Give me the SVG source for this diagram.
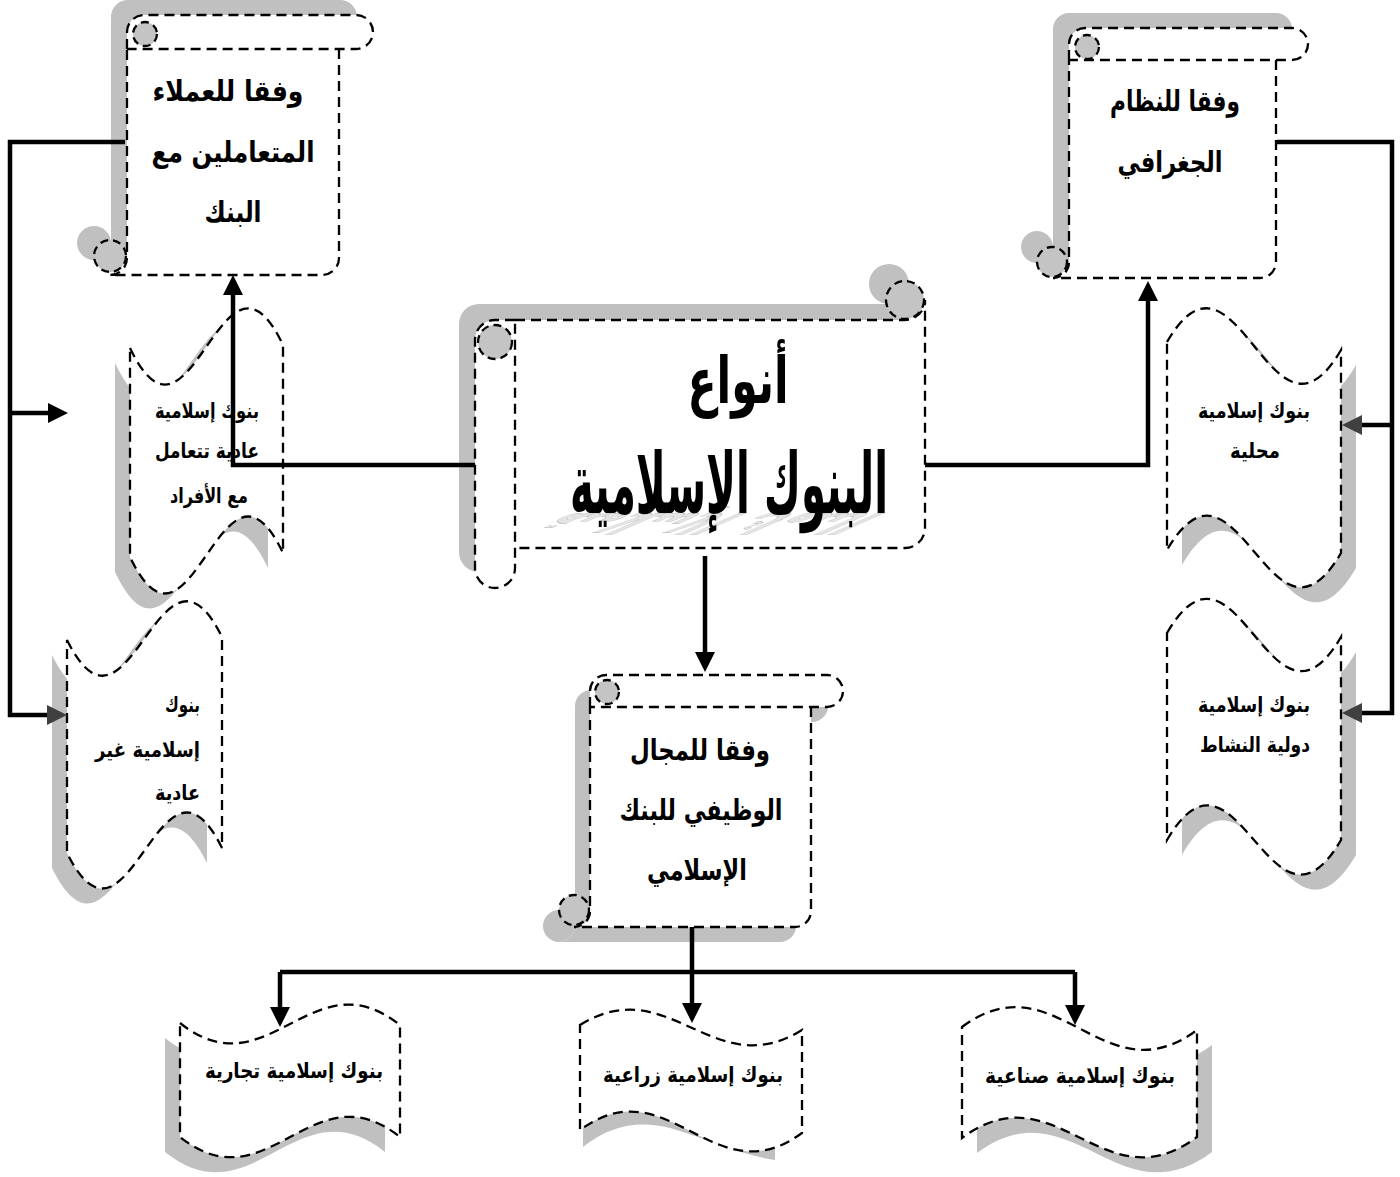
<svg xmlns="http://www.w3.org/2000/svg" width="1400" height="1177" viewBox="0 0 1400 1177">
  <style>
    .sh { fill: #c0c0c0; stroke: none; }
    .pg { fill: #ffffff; stroke: #000; stroke-width: 2.3; stroke-dasharray: 10 6; }
    .curl { fill: #c4c4c4; stroke: #000; stroke-width: 2.3; stroke-dasharray: 8 5; }
    .conn { fill: none; stroke: #000; stroke-width: 4.5; stroke-linejoin: miter; stroke-linecap: butt; }
    .t { font-family: 'DejaVu Sans', 'Liberation Sans', sans-serif; font-weight: bold; fill: #000; text-anchor: middle; }
    .big { font-size: 29px; }
    .sm { font-size: 21px; }
  </style>
  <defs>
    <marker id="ah" viewBox="0 0 20 20" refX="12" refY="10" markerWidth="20" markerHeight="20" markerUnits="userSpaceOnUse" orient="auto">
      <path d="M0,0 L20,10 L0,20 Z" fill="#000"/>
    </marker>
    <marker id="ahg" viewBox="0 0 20 20" refX="12" refY="10" markerWidth="20" markerHeight="20" markerUnits="userSpaceOnUse" orient="auto">
      <path d="M0,0 L20,10 L0,20 Z" fill="#404040"/>
    </marker>
    <!-- vertical scroll parts -->
    <path id="tlBody" d="M339,49 L339,258 A17 17 0 0 1 322,275 L110,275 A17 17 0 0 0 127,258 L127,49"/>
    <path id="tlRoll" d="M127,49 L127,32 A17 17 0 0 1 144,15 L356,15 A17 17 0 0 1 356,49 L127,49"/>
    <path id="trBody" d="M1276,60 L1276,262 A16 16 0 0 1 1260,278 L1053,278 A16 16 0 0 0 1069,262 L1069,60"/>
    <path id="trRoll" d="M1069,60 L1069,44 A16 16 0 0 1 1085,28 L1292,28 A16 16 0 0 1 1292,60 L1069,60"/>
    <path id="bcBody" d="M811,707 L811,911 A16 16 0 0 1 795,927 L574,927 A16 16 0 0 0 590,911 L590,707"/>
    <path id="bcRoll" d="M590,707 L590,691 A16 16 0 0 1 606,675 L827,675 A16 16 0 0 1 827,707 L590,707"/>
    <!-- horizontal scroll parts -->
    <path id="cBody" d="M515,320 L905,320 A20 20 0 0 0 925,300 L925,528 A20 20 0 0 1 905,548 L515,548"/>
    <path id="cTube" d="M515,320 L495,320 A20 20 0 0 0 475,340 L475,568 A20 20 0 0 0 495,588 A20 20 0 0 0 515,568 Z"/>
    <!-- wave banners -->
    <path id="wL1" d="M130,348 C191,476 222,217 283,345 L283,553 C222,425 191,685 130,557 Z"/>
    <path id="wL2" d="M67,640 C129,765 160,512 222,637 L222,848 C160,723 129,978 67,853 Z"/>
    <path id="wR1" d="M1167,342 C1237,222 1271,470 1341,350 L1341,553 C1271,673 1237,430 1167,550 Z"/>
    <path id="wR2" d="M1167,633 C1237,513 1271,757 1341,637 L1341,840 C1271,960 1237,720 1167,840 Z"/>
    <path id="wB1" d="M180,1023 C268,1093 312,955 400,1025 L400,1137 C312,1067 268,1207 180,1137 Z"/>
    <path id="wB2" d="M580,1025 C669,970 713,1085 802,1030 L802,1133 C713,1198 669,1065 580,1130 Z"/>
    <path id="wB3" d="M962,1027 C1056,957 1103,1100 1197,1030 L1197,1137 C1103,1207 1056,1068 962,1138 Z"/>
  </defs>

  <!-- shadows -->
  <g id="shadows">
    <g class="sh" transform="translate(-16,-15)">
      <use href="#tlBody"/><use href="#tlRoll"/><circle cx="110" cy="258" r="17"/>
    </g>
    <g class="sh" transform="translate(-16,-15)">
      <use href="#trBody"/><use href="#trRoll"/><circle cx="1053" cy="262" r="16"/>
    </g>
    <g class="sh" transform="translate(-15,15)">
      <use href="#bcBody"/><use href="#bcRoll"/><circle cx="574" cy="911" r="16"/>
    </g>
    <g class="sh" transform="translate(-16,-16)">
      <use href="#cBody"/><use href="#cTube"/><circle cx="905" cy="300" r="20"/>
    </g>
    <use class="sh" href="#wL1" transform="translate(-15,15)"/>
    <use class="sh" href="#wL2" transform="translate(-15,15)"/>
    <use class="sh" href="#wR1" transform="translate(15,15)"/>
    <use class="sh" href="#wR2" transform="translate(15,15)"/>
    <use class="sh" href="#wB1" transform="translate(-15,15)"/>
    <use class="sh" href="#wB3" transform="translate(15,15)"/>
    <path class="sh" d="M583,1147 C610,1125 640,1120 670,1128 C710,1140 745,1156 775,1160 L775,1148 C700,1118 640,1095 583,1120 Z"/>
  </g>

  <!-- centre scroll -->
  <g id="node-types">
    <use class="pg" href="#cBody"/>
    <use class="pg" href="#cTube"/>
    <circle class="curl" cx="495" cy="342" r="17"/>
    <circle class="curl" cx="905" cy="300" r="19"/>
    <text class="t" font-size="82" textLength="318" lengthAdjust="spacingAndGlyphs" x="729" y="0" transform="matrix(1,0,0.8,-0.35,0,513)" style="fill:#e4e4e4;stroke:#b4b4b4;stroke-width:1">البنوك الإسلامية</text>
    <text class="t" font-size="64" x="738" y="403" textLength="101" lengthAdjust="spacingAndGlyphs">أنواع</text>
    <text class="t" font-size="84" x="729" y="513" textLength="318" lengthAdjust="spacingAndGlyphs">البنوك الإسلامية</text>
  </g>

  <!-- top-left scroll -->
  <g id="node-clients">
    <use class="pg" href="#tlBody"/>
    <use class="pg" href="#tlRoll"/>
    <circle class="curl" cx="145" cy="34" r="12"/>
    <circle class="curl" cx="110" cy="256" r="16"/>
    <text class="t big" x="228" y="101" textLength="151" lengthAdjust="spacingAndGlyphs">وفقا للعملاء</text>
    <text class="t big" x="233" y="162" textLength="163" lengthAdjust="spacingAndGlyphs">المتعاملين مع</text>
    <text class="t big" x="233" y="222" textLength="57" lengthAdjust="spacingAndGlyphs">البنك</text>
  </g>

  <!-- top-right scroll -->
  <g id="node-geo">
    <use class="pg" href="#trBody"/>
    <use class="pg" href="#trRoll"/>
    <circle class="curl" cx="1087" cy="47" r="12"/>
    <circle class="curl" cx="1052" cy="262" r="15"/>
    <text class="t big" x="1175" y="111" textLength="130" lengthAdjust="spacingAndGlyphs">وفقا للنظام</text>
    <text class="t big" x="1170" y="172" textLength="105" lengthAdjust="spacingAndGlyphs">الجغرافي</text>
  </g>

  <!-- bottom-centre scroll -->
  <g id="node-function">
    <use class="pg" href="#bcBody"/>
    <use class="pg" href="#bcRoll"/>
    <circle class="curl" cx="607" cy="692" r="12"/>
    <circle class="curl" cx="574" cy="910" r="15"/>
    <text class="t big" x="700" y="760" textLength="140" lengthAdjust="spacingAndGlyphs">وفقا للمجال</text>
    <text class="t big" x="701" y="820" textLength="163" lengthAdjust="spacingAndGlyphs">الوظيفي للبنك</text>
    <text class="t big" x="697" y="880" textLength="100" lengthAdjust="spacingAndGlyphs">الإسلامي</text>
  </g>

  <!-- wave banners -->
  <g id="node-ordinary">
    <use class="pg" href="#wL1"/>
    <text class="t sm" x="207" y="418" textLength="104" lengthAdjust="spacingAndGlyphs">بنوك إسلامية</text>
    <text class="t sm" x="207" y="458" textLength="104" lengthAdjust="spacingAndGlyphs">عادية تتعامل</text>
    <text class="t sm" x="209" y="503" textLength="78" lengthAdjust="spacingAndGlyphs">مع الأفراد</text>
  </g>
  <g id="node-special">
    <use class="pg" href="#wL2"/>
    <text class="t sm" x="200" y="712" style="text-anchor:end" textLength="35" lengthAdjust="spacingAndGlyphs">بنوك</text>
    <text class="t sm" x="200" y="757" style="text-anchor:end" textLength="105" lengthAdjust="spacingAndGlyphs">إسلامية غير</text>
    <text class="t sm" x="200" y="800" style="text-anchor:end" textLength="45" lengthAdjust="spacingAndGlyphs">عادية</text>
  </g>
  <g id="node-local">
    <use class="pg" href="#wR1"/>
    <text class="t sm" x="1254" y="418" textLength="112" lengthAdjust="spacingAndGlyphs">بنوك إسلامية</text>
    <text class="t sm" x="1255" y="458" textLength="50" lengthAdjust="spacingAndGlyphs">محلية</text>
  </g>
  <g id="node-international">
    <use class="pg" href="#wR2"/>
    <text class="t sm" x="1254" y="712" textLength="112" lengthAdjust="spacingAndGlyphs">بنوك إسلامية</text>
    <text class="t sm" x="1255" y="752" textLength="110" lengthAdjust="spacingAndGlyphs">دولية النشاط</text>
  </g>
  <g id="node-commercial">
    <use class="pg" href="#wB1"/>
    <text class="t sm" x="294" y="1078" textLength="178" lengthAdjust="spacingAndGlyphs">بنوك إسلامية تجارية</text>
  </g>
  <g id="node-agricultural">
    <use class="pg" href="#wB2"/>
    <text class="t sm" x="693" y="1082" textLength="180" lengthAdjust="spacingAndGlyphs">بنوك إسلامية زراعية</text>
  </g>
  <g id="node-industrial">
    <use class="pg" href="#wB3"/>
    <text class="t sm" x="1080" y="1083" textLength="190" lengthAdjust="spacingAndGlyphs">بنوك إسلامية صناعية</text>
  </g>

  <!-- connectors -->
  <g id="connectors" class="conn">
    <path d="M475,465 L233,465 L233,283" marker-end="url(#ah)"/>
    <path d="M125,142 L10,142 L10,715 L59,715" marker-end="url(#ahg)"/>
    <path d="M10,413 L60,413" marker-end="url(#ah)"/>
    <path d="M925,465 L1148,465 L1148,289" marker-end="url(#ah)"/>
    <path d="M1277,142 L1392,142 L1392,713 L1350,713" marker-end="url(#ahg)"/>
    <path d="M1392,425 L1350,425" marker-end="url(#ahg)"/>
    <path d="M705,556 L705,664" marker-end="url(#ah)"/>
    <path d="M692,927 L692,1015" marker-end="url(#ah)"/>
    <path d="M280,972 L1075,972"/>
    <path d="M280,972 L280,1019" marker-end="url(#ah)"/>
    <path d="M1075,972 L1075,1017" marker-end="url(#ah)"/>
  </g>
</svg>
